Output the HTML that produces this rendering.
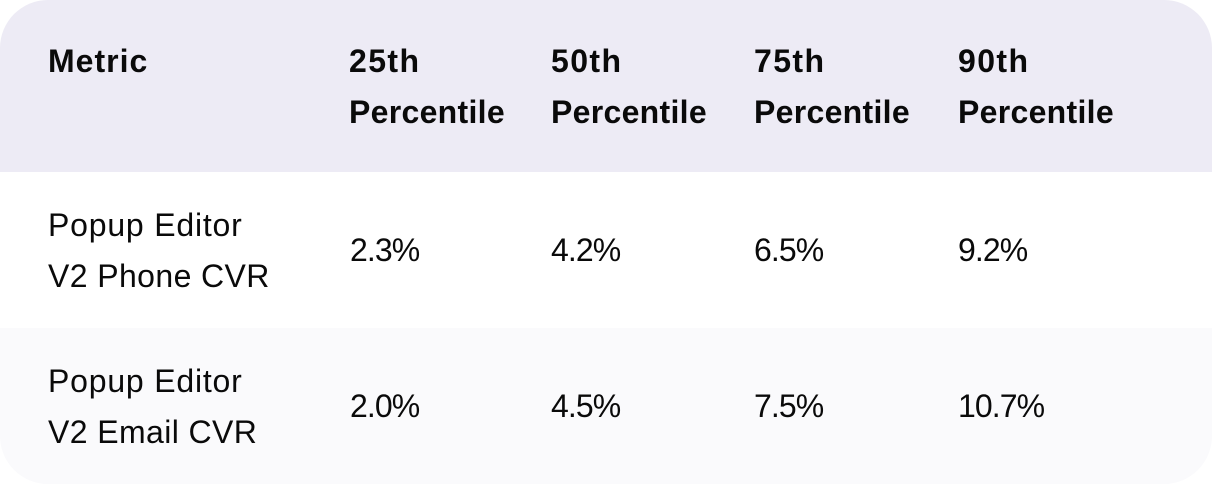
<!DOCTYPE html>
<html>
<head>
<meta charset="utf-8">
<style>
  html,body{margin:0;padding:0;background:#ffffff;}
  body{width:1212px;height:484px;position:relative;overflow:hidden;
    font-family:"Liberation Sans",sans-serif;color:#0a0a0a;}
  .card{position:absolute;left:0;top:0;width:1212px;height:484px;border-radius:48px;overflow:hidden;background:#fff;}
  .hdr{position:absolute;left:0;top:0;width:1212px;height:172px;background:#edebf5;}
  .r1{position:absolute;left:0;top:172px;width:1212px;height:156px;background:#ffffff;}
  .r2{position:absolute;left:0;top:328px;width:1212px;height:156px;background:#fafafc;}
  .t{position:absolute;font-size:32px;line-height:51px;white-space:nowrap;letter-spacing:0.4px;}
  .b{font-weight:bold;letter-spacing:0.3px;}
  .w{letter-spacing:1.4px;}
  .v{letter-spacing:-0.9px;}
  .pe{letter-spacing:0.8px;}
</style>
</head>
<body>
<div class="card">
  <div class="hdr"></div>
  <div class="r1"></div>
  <div class="r2"></div>

  <div class="t b" style="left:48px;top:36px;letter-spacing:1px;">Metric</div>
  <div class="t b" style="left:349px;top:36px;"><span class="w">25th</span><br>Percentile</div>
  <div class="t b" style="left:551px;top:36px;"><span class="w">50th</span><br>Percentile</div>
  <div class="t b" style="left:754px;top:36px;"><span class="w">75th</span><br>Percentile</div>
  <div class="t b" style="left:958px;top:36px;"><span class="w">90th</span><br>Percentile</div>

  <div class="t" style="left:48px;top:200px;"><span class="pe">Popup Editor</span><br>V2 Phone CVR</div>
  <div class="t v" style="left:350px;top:225px;">2.3%</div>
  <div class="t v" style="left:551px;top:225px;">4.2%</div>
  <div class="t v" style="left:754px;top:225px;">6.5%</div>
  <div class="t v" style="left:958px;top:225px;">9.2%</div>

  <div class="t" style="left:48px;top:356px;"><span class="pe">Popup Editor</span><br>V2 Email CVR</div>
  <div class="t v" style="left:350px;top:381px;">2.0%</div>
  <div class="t v" style="left:551px;top:381px;">4.5%</div>
  <div class="t v" style="left:754px;top:381px;">7.5%</div>
  <div class="t v" style="left:958px;top:381px;">10.7%</div>
</div>
</body>
</html>
